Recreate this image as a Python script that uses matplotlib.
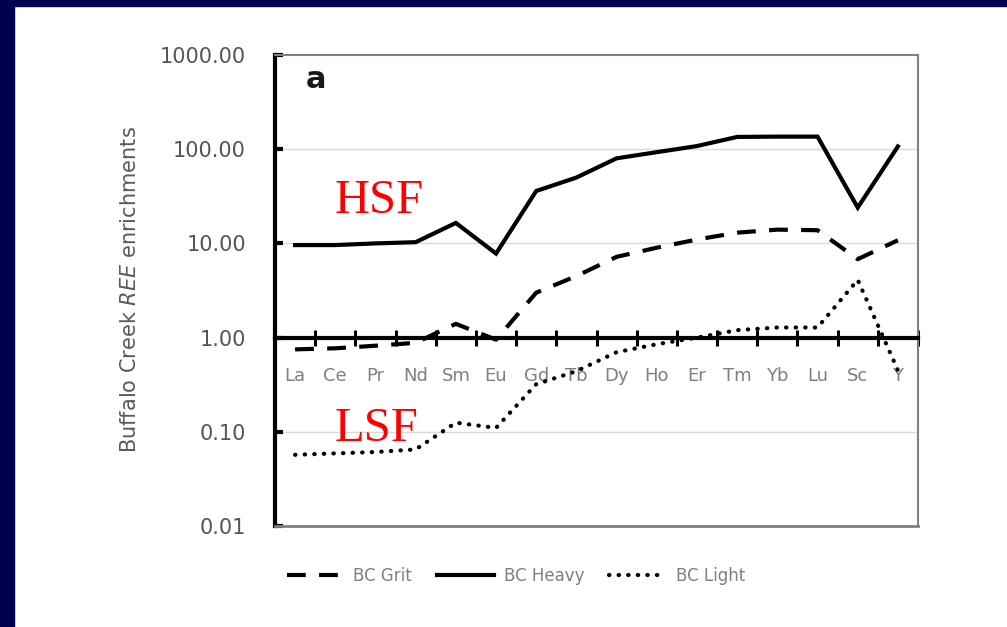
import matplotlib
matplotlib.use("Agg")
import matplotlib.pyplot as plt
from matplotlib.patches import Rectangle
import numpy as np

elements = ["La", "Ce", "Pr", "Nd", "Sm", "Eu", "Gd", "Tb", "Dy", "Ho",
            "Er", "Tm", "Yb", "Lu", "Sc", "Y"]
bc_grit = [0.75, 0.77, 0.82, 0.88, 1.4, 0.95, 3.0, 4.5, 7.2, 9.0,
           11.0, 13.0, 14.0, 13.8, 6.8, 10.8]
bc_heavy = [9.6, 9.6, 10.0, 10.3, 16.5, 7.8, 36.0, 50.0, 80.0, 93.0,
            108.0, 135.0, 136.0, 136.0, 24.0, 107.0]
bc_light = [0.057, 0.059, 0.061, 0.065, 0.125, 0.11, 0.32, 0.44, 0.70, 0.85,
            1.0, 1.2, 1.28, 1.28, 4.1, 0.45]
y_ticks = [0.01, 0.1, 1, 10, 100, 1000]
y_tick_labels = ["0.01", "0.10", "1.00", "10.00", "100.00", "1000.00"]

W, H = 1007, 627
fig = plt.figure(figsize=(W / 100, H / 100), dpi=100)
fig.patch.set_facecolor("white")

# navy frame strips
fig.patches.append(Rectangle((0, 1 - 6 / H), 1, 6 / H, transform=fig.transFigure,
                             color="#000050", zorder=0))
fig.patches.append(Rectangle((0, 0), 14 / W, 1, transform=fig.transFigure,
                             color="#000050", zorder=0))

l, r, t, b = 275, 918, 55, 526
ax = fig.add_axes([l / W, 1 - b / H, (r - l) / W, (b - t) / H])
ax.set_yscale("log")
ax.set_ylim(0.01, 1000)
n = len(elements)
x = np.arange(n)
ax.set_xlim(-0.5, n - 0.5)

for yv in y_ticks[1:-1]:
    ax.axhline(yv, color="#d9d9d9", lw=1.0, zorder=1)

grit_line, = ax.plot(x, bc_grit, color="black", lw=3, dashes=(4.5, 3.2),
                     solid_capstyle="butt", zorder=4, label="BC Grit")
heavy_line, = ax.plot(x, bc_heavy, color="black", lw=3, zorder=4,
                      solid_joinstyle="miter", label="BC Heavy")
light_line, = ax.plot(x, bc_light, color="black", lw=3, dashes=(0.1, 2.2),
                      dash_capstyle="round", zorder=4, label="BC Light")

# spines
ax.spines["left"].set_linewidth(3)
ax.spines["left"].set_color("black")
for s in ["top", "right"]:
    ax.spines[s].set_color("#808080")
    ax.spines[s].set_linewidth(1.5)
ax.spines["bottom"].set_position(("data", 1))
ax.spines["bottom"].set_linewidth(3)
ax.spines["bottom"].set_color("black")
ax.spines["bottom"].set_zorder(5)
ax.axhline(0.01, color="#7f7f7f", lw=2.0, clip_on=False, zorder=3)

# x ticks: boundaries (major, crossing), labels on minor at centers
ax.set_xticks(np.arange(n + 1) - 0.5)
ax.set_xticklabels([])
ax.set_xticks(x, minor=True)
ax.set_xticklabels(elements, minor=True, fontsize=13, color="#7f7f7f")
ax.tick_params(axis="x", which="major", direction="inout", length=12, width=2.2,
               color="black")
ax.tick_params(axis="x", which="minor", length=0, pad=21)

# y ticks
ax.set_yticks(y_ticks)
ax.set_yticklabels(y_tick_labels, fontsize=15, color="#555555")
ax.yaxis.set_minor_locator(matplotlib.ticker.NullLocator())
ax.tick_params(axis="y", which="major", direction="in", length=6, width=3,
               color="black", pad=21)

fig.text(130 / W, 1 - 290 / H, r"Buffalo Creek $\it{REE}$ enrichments",
         rotation=90, ha="center", va="center", fontsize=15, color="#595959")

fig.text(316 / W, 1 - 88 / H, "a", ha="center", va="baseline", fontsize=22,
         fontweight="bold", color="#1a1a1a")
fig.text(335 / W, 1 - 213 / H, "HSF", ha="left", va="baseline", fontsize=35,
         family="Liberation Serif", color="red")
fig.text(335 / W, 1 - 441 / H, "LSF", ha="left", va="baseline", fontsize=35,
         family="Liberation Serif", color="red")

leg = fig.legend(handles=[grit_line, heavy_line, light_line], loc="center",
                 bbox_to_anchor=(516 / W, 1 - 576 / H), ncol=3, frameon=False,
                 fontsize=12, labelcolor="#7f7f7f", handlelength=3.4,
                 handletextpad=0.6, columnspacing=1.5)

fig.savefig("out.png", dpi=100, facecolor=fig.get_facecolor())
